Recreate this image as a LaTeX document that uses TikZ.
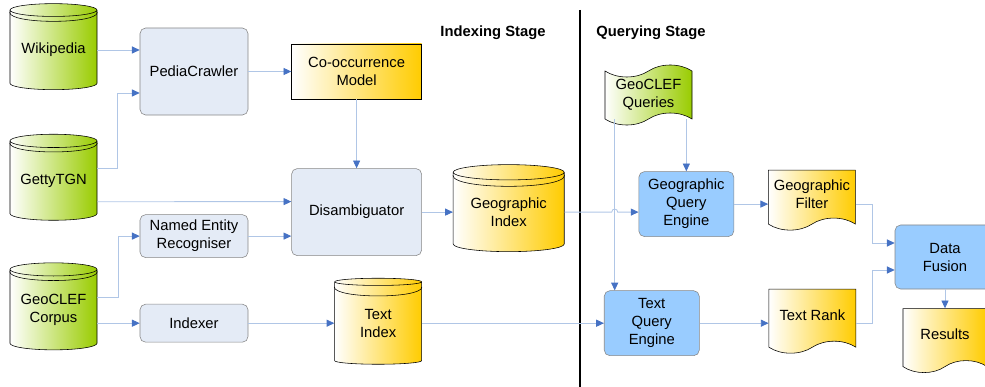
\documentclass[tikz,border=0pt]{standalone}
\usepackage{fontspec}
\setmainfont{Liberation Sans}
\usetikzlibrary{positioning, arrows.meta, shapes.geometric, shapes.symbols, calc}

\definecolor{leafgreen}{RGB}{153,204,0}
\definecolor{gold}{RGB}{255,204,0}
\definecolor{paleblue}{RGB}{228,235,246}
\definecolor{skyblue}{RGB}{153,204,255}
\definecolor{linkblue}{RGB}{176,198,230}
\definecolor{tipblue}{RGB}{70,114,196}
\definecolor{boxgray}{RGB}{135,135,135}

\tikzstyle{txt} = [font=\fontsize{10.5}{12.8}\selectfont, align=center, inner sep=0pt]
\tikzstyle{source} = [txt, cylinder, shape border rotate=90, aspect=0.2, draw=black, left color=white, right color=leafgreen, minimum width=2.175cm, minimum height=2.15cm]
\tikzstyle{store} = [source, right color=gold]
\tikzstyle{process} = [txt, rectangle, rounded corners=4pt, draw=boxgray, fill=paleblue, minimum width=2.7cm]
\tikzstyle{model} = [txt, rectangle, draw=black, left color=white, right color=gold, minimum width=3.25cm, minimum height=1.375cm]
\tikzstyle{engine} = [txt, rectangle, rounded corners=4pt, draw=boxgray, fill=skyblue, minimum width=2.375cm, minimum height=1.625cm]
\tikzstyle{doc} = [txt, tape, tape bend top=none, tape bend bottom=in and out, tape bend height=0.3cm, draw=black, left color=white, right color=gold, minimum width=2.175cm]
\tikzstyle{query} = [txt, tape, tape bend top=in and out, tape bend bottom=in and out, tape bend height=0.3cm, draw=black, left color=white, right color=leafgreen, minimum width=2.175cm, minimum height=1.5cm]
\tikzstyle{link} = [draw=linkblue, line width=0.6pt, -{Triangle[length=5.5pt, width=5pt, color=tipblue]}]
\tikzstyle{stage} = [font=\bfseries\fontsize{10.5}{12.8}\selectfont]

\begin{document}
\begin{tikzpicture}[x=0.025cm, y=-0.025cm]
  \useasboundingbox (0,0) rectangle (985,387);

  % Sources (left column)
  \node (wiki) [source] at (53.5,50) {Wikipedia};
  \node (getty) [source, below=1.1cm of wiki] {GettyTGN};
  \node (corpus) [source, below=1.05cm of getty, minimum height=2.175cm] {GeoCLEF\\Corpus};

  % Indexing stage
  \node (pedia) [process, minimum height=2.175cm] at (194,71.5) {PediaCrawler};
  \node (ner) [process, below=2.475cm of pedia, minimum height=1.075cm] {Named Entity\\Recogniser};
  \node (indexer) [process, below=1.15cm of ner, minimum height=0.95cm] {Indexer};
  \node (cooc) [model, right=1.075cm of pedia] {Co-occurrence\\Model};
  \node (disamb) [process, below=1.725cm of cooc, minimum width=3.25cm, minimum height=2.175cm] {Disambiguator};
  \node (geoidx) [store, right=0.775cm of disamb, minimum width=2.775cm, minimum height=2.175cm] {Geographic\\Index};
  \node (textidx) [store, right=2.15cm of indexer] {Text\\Index};

  % Querying stage
  \node (queries) [query] at (648.5,95) {GeoCLEF\\Queries};
  \node (gqe) [engine, right=1.85cm of geoidx, yshift=0.2cm] {Geographic\\Query\\Engine};
  \node (tqe) [engine, right=4.55cm of textidx] {Text\\Query\\Engine};
  \node (geofilter) [doc, right=0.85cm of gqe, yshift=0.25cm, minimum height=1.5cm] {Geographic\\Filter};
  \node (textrank) [doc, right=1.725cm of tqe, yshift=0.2cm, minimum height=1.6cm] {Text Rank};
  \node (fusion) [engine, minimum width=2.5cm, minimum height=1.6cm] at (945,257) {Data\\Fusion};
  \node (results) [doc, below=0.475cm of fusion, minimum width=2.1cm, minimum height=1.6cm] {Results};

  % Cylinder rims
  \foreach \db/\ry in {wiki/9, getty/9, corpus/9, textidx/9, geoidx/11} {
    \coordinate (rim) at ($(\db.north)+(0,\ry)$);
    \draw (rim -| \db.west) .. controls +(0,1.33*\ry) and +(0,1.33*\ry) .. (rim -| \db.east);
  }

  % Stage titles and divider
  \node (idxstage) [stage] at (493,33) {Indexing Stage};
  \node (qrystage) [stage] at (651,33) {Querying Stage};
  \draw[line width=2.1pt] (580,10) -- (580,387);

  % Arrows - indexing
  \draw[link] (wiki.east) -- (wiki.east -| pedia.west);
  \draw[link] ($(getty.east)+(0,-12)$) -| ($(pedia.west)+(-22,21.5)$) -- ($(pedia.west)+(0,21.5)$);
  \draw[link] (pedia.east) -- (cooc.west);
  \draw[link] (cooc.south) -- (disamb.north);
  \draw[link] ($(getty.east)+(0,21)$) -- ($(disamb.west)+(0,-10.5)$);
  \draw[link] (ner.east) -- (ner.east -| disamb.west);
  \draw[link] ($(corpus.east)+(0,-12.5)$) -| ($(ner.west)+(-21,0)$) -- (ner.west);
  \draw[link] (corpus.east |- indexer.west) -- (indexer.west);
  \draw[link] (indexer.east) -- (textidx.west);
  \draw[link] (disamb.east) -- (geoidx.west);

  % Arrows - querying
  \coordinate (qsplit) at ($(queries.south west)+(10,0)$);
  \draw[link] (textidx.east) -- (tqe.west);
  \draw[link] (gqe.north |- queries.south) -- (gqe.north);
  \draw[link] (qsplit) -- (qsplit |- tqe.north);
  \draw[link] (geoidx.east) -- ($(qsplit |- geoidx.east)+(-3,0)$) .. controls +(0,-4) and +(0,-4) .. ($(qsplit |- geoidx.east)+(3,0)$) -- (geoidx.east -| gqe.west);
  \draw[link] (gqe.east) -- (gqe.east -| geofilter.west);
  \draw[link] (tqe.east) -- (tqe.east -| textrank.west);
  \draw[link] (gqe.east -| geofilter.east) -| ($(fusion.west)+(-22,-14)$) -- ($(fusion.west)+(0,-14)$);
  \draw[link] (tqe.east -| textrank.east) -| ($(fusion.west)+(-22,13)$) -- ($(fusion.west)+(0,13)$);
  \draw[link] (fusion.south) -- (results.north);

\end{tikzpicture}
\end{document}
